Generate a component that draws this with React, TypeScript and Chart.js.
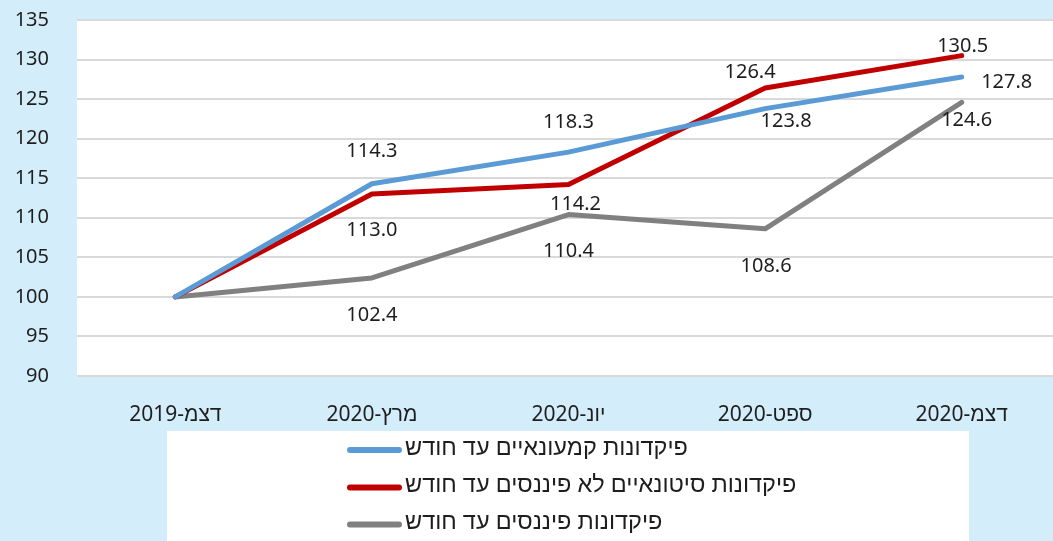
import React, { useEffect, useRef } from "react";
import { Chart, registerables } from "chart.js";

Chart.register(...registerables);

// ---- data ----
const categories = ["דצמ-2019", "מרץ-2020", "יונ-2020", "ספט-2020", "דצמ-2020"];
const retailDeposits = [100, 114.3, 118.3, 123.8, 127.8];
const institutionalNonFinancialDeposits = [100, 113.0, 114.2, 126.4, 130.5];
const financialDeposits = [100, 102.4, 110.4, 108.6, 124.6];
const seriesNames = [
  "פיקדונות קמעונאיים עד חודש",
  "פיקדונות סיטונאיים לא פיננסים עד חודש",
  "פיקדונות פיננסים עד חודש",
];
const yMin = 90;
const yMax = 135;
const yStep = 5;

// ---- styling ----
const seriesColors = ["#5B9BD5", "#C00000", "#808080"];
const FONT = "'Noto Sans', 'Liberation Sans', 'DejaVu Sans', sans-serif";
const TEXT = "#1e1e1e";
const BG = "#D3EEFA";
// label offsets (px) relative to each point, per series
const labelOffsets: [number, number][][] = [
  [[0, 0], [0, -32], [0, -30], [21, 13], [45, 5]],
  [[0, 0], [0, 36], [7, 20], [-15, -16], [1, -9]],
  [[0, 0], [0, 37], [0, 37], [1, 37], [5, 18]],
];

const decorPlugin = {
  id: "decor",
  beforeDraw(chart: any) {
    const { ctx, chartArea } = chart;
    ctx.save();
    ctx.fillStyle = BG;
    ctx.fillRect(0, 0, chart.width, chart.height);
    ctx.fillStyle = "#ffffff";
    ctx.fillRect(chartArea.left, chartArea.top, chartArea.right - chartArea.left, chartArea.bottom - chartArea.top);
    ctx.restore();
  },
  afterDatasetsDraw(chart: any) {
    const { ctx } = chart;
    ctx.save();
    ctx.font = `20px ${FONT}`;
    ctx.fillStyle = TEXT;
    ctx.textAlign = "center";
    ctx.textBaseline = "middle";
    chart.data.datasets.forEach((ds: any, di: number) => {
      const meta = chart.getDatasetMeta(di);
      meta.data.forEach((pt: any, i: number) => {
        if (i === 0) return;
        const [dx, dy] = labelOffsets[di][i];
        ctx.fillText(Number(ds.data[i]).toFixed(1), pt.x + dx, pt.y + dy);
      });
    });
    ctx.restore();
  },
  afterDraw(chart: any) {
    const { ctx } = chart;
    ctx.save();
    ctx.fillStyle = "#ffffff";
    ctx.fillRect(167, 431, 802, 120);
    const ys = [450, 487.5, 524.5];
    chart.data.datasets.forEach((ds: any, di: number) => {
      const y = ys[di];
      ctx.strokeStyle = ds.borderColor;
      ctx.lineWidth = 6;
      ctx.lineCap = "round";
      ctx.beginPath();
      ctx.moveTo(350, y);
      ctx.lineTo(399, y);
      ctx.stroke();
      ctx.direction = "rtl";
      ctx.font = `23.5px ${FONT}`;
      ctx.fillStyle = TEXT;
      ctx.textAlign = "left";
      ctx.textBaseline = "middle";
      ctx.fillText(ds.label, 405, y - 2);
    });
    ctx.restore();
  },
};

export default function App() {
  const ref = useRef<HTMLCanvasElement | null>(null);
  useEffect(() => {
    if (!ref.current) return;
    const seriesData = [retailDeposits, institutionalNonFinancialDeposits, financialDeposits];
    const chart = new Chart(ref.current, {
      type: "line",
      data: {
        labels: categories,
        datasets: seriesData.map((d, i) => ({
          label: seriesNames[i],
          data: d,
          borderColor: seriesColors[i],
          backgroundColor: seriesColors[i],
          borderWidth: 5,
          pointRadius: 0,
          pointHoverRadius: 0,
          tension: 0,
          borderJoinStyle: "round" as const,
          borderCapStyle: "round" as const,
        })),
      },
      options: {
        responsive: false,
        animation: false,
        devicePixelRatio: 1,
        layout: { padding: { top: 20, left: 0, right: 0, bottom: 105 } },
        plugins: {
          legend: { display: false },
          tooltip: { enabled: false },
          title: { display: false },
        },
        scales: {
          x: {
            type: "category",
            offset: true,
            grid: { display: false, drawTicks: false },
            border: { display: false },
            ticks: {
              font: { family: FONT, size: 21 },
              color: TEXT,
              padding: 26,
              maxRotation: 0,
              autoSkip: false,
            },
            afterFit(scale: any) {
              scale.height = 60;
              scale.paddingLeft = 0;
              scale.paddingRight = 0;
            },
          },
          y: {
            min: yMin,
            max: yMax,
            ticks: {
              stepSize: yStep,
              font: { family: FONT, size: 20 },
              color: TEXT,
              padding: 28,
            },
            grid: { color: "#D9D9D9", lineWidth: 2, drawTicks: false },
            border: { display: false },
            afterFit(scale: any) {
              scale.width = 77;
              scale.paddingTop = 0;
              scale.paddingBottom = 0;
            },
          },
        },
      },
      plugins: [decorPlugin],
    });
    return () => chart.destroy();
  }, []);

  return (
    <div
      style={{
        position: "fixed",
        left: 0,
        top: 0,
        width: 1053,
        height: 541,
        overflow: "hidden",
        background: BG,
      }}
    >
      <canvas
        ref={ref}
        width={1060}
        height={541}
        style={{ width: 1060, height: 541, display: "block", direction: "rtl" }}
      />
    </div>
  );
}
